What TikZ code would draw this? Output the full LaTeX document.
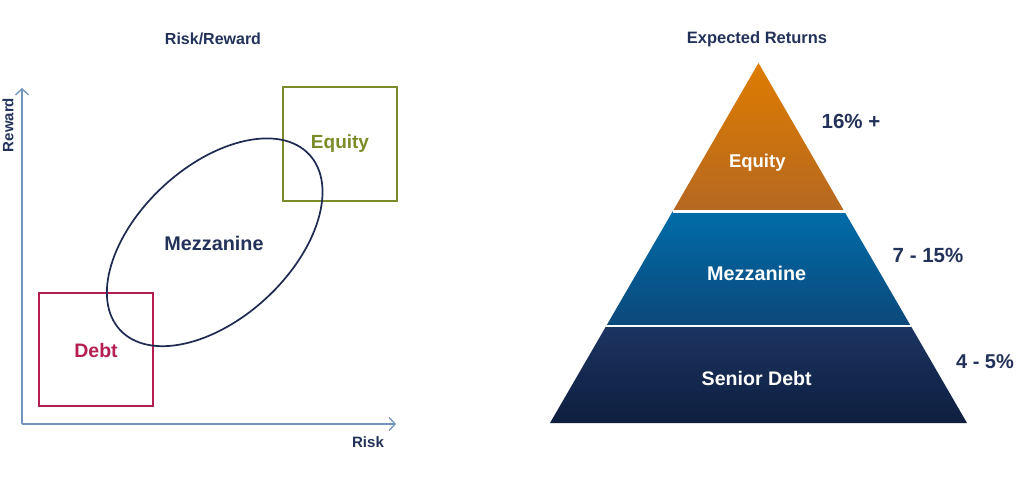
\documentclass[tikz,border=0pt]{standalone}
\usepackage{fontspec}
\setmainfont{Liberation Sans}
\usetikzlibrary{arrows.meta}
\definecolor{navy}{RGB}{35,50,90}
\definecolor{axiscol}{RGB}{115,148,188}
\definecolor{debtcol}{RGB}{180,30,80}
\definecolor{eqcol}{RGB}{122,140,40}
\definecolor{ellcol}{RGB}{30,42,80}
\definecolor{eqtop}{RGB}{222,124,0}
\definecolor{eqbot}{RGB}{182,104,34}
\definecolor{mztop}{RGB}{0,108,168}
\definecolor{mzbot}{RGB}{12,72,122}
\definecolor{sdtop}{RGB}{28,52,98}
\definecolor{sdbot}{RGB}{14,30,62}
\tikzset{
  lbl/.style={font=\bfseries\fontsize{#1}{#1}\selectfont, text=navy, inner sep=0pt},
  wlbl/.style={font=\bfseries\fontsize{#1}{#1}\selectfont, text=white, inner sep=0pt},
  axisline/.style={draw=axiscol, line width=1.3pt, -{Straight Barb[length=6pt,width=13pt]}},
  boxline/.style={line width=1.8pt}
}
\begin{document}
\begin{tikzpicture}[x=1pt,y=1pt]
\useasboundingbox[fill=white] (0,0) rectangle (1024,493);
% ---- left panel ----
\node[lbl=16] (t1) at (213,454) {Risk/Reward};
\coordinate (o) at (22,69);
\coordinate (ytop) at (22,405);
\coordinate (xend) at (396,69);
\draw[axisline] (o) -- (ytop);
\draw[axisline] (o) -- (xend);
\node[lbl=15, rotate=90] (rew) at (8,368) {Reward};
\node[lbl=15] (risk) at (368,51) {Risk};
\node[draw=debtcol, boxline, minimum width=114pt, minimum height=113pt, inner sep=0pt] (debtbox) at (96,143.5) {};
\node[lbl=19.5, text=debtcol] (debt) at (96,142) {Debt};
\node[draw=eqcol, boxline, minimum width=114pt, minimum height=114pt, inner sep=0pt] (eqbox) at (340,349) {};
\node[lbl=19, text=eqcol] (eq) at (340,349) {Equity};
\draw[ellcol, line width=1.7pt] (214.7,250.7) ellipse [x radius=129, y radius=76, rotate=42.8];
\node[lbl=19.8] (mz) at (214,250) {Mezzanine};
% ---- right panel ----
\node[lbl=16.5] (t2) at (757,454) {Expected Returns};
\coordinate (apex) at (758.5,430);
\coordinate (bl) at (550,70);
\coordinate (br) at (967,70);
\coordinate (e1l) at (672.5,281.3);
\coordinate (e1r) at (844.5,281.3);
\coordinate (m1l) at (606.2,167);
\coordinate (m1r) at (910.8,167);
\shade[top color=eqtop, bottom color=eqbot] (apex) -- (e1r) -- (e1l) -- cycle;
\shade[top color=mztop, bottom color=mzbot] (e1l) -- (e1r) -- (m1r) -- (m1l) -- cycle;
\shade[top color=sdtop, bottom color=sdbot] (m1l) -- (m1r) -- (br) -- (bl) -- cycle;
\draw[white, line width=2.6pt] (e1l) -- (e1r);
\draw[white, line width=2.6pt] (m1l) -- (m1r);
\node[wlbl=18.5] (weq) at (757.3,330) {Equity};
\node[wlbl=19.8] (wmz) at (756.7,220) {Mezzanine};
\node[wlbl=19.6] (wsd) at (756.7,115) {Senior Debt};
\node[lbl=20.5] (r1) at (851,371.3) {16\% +};
\node[lbl=20.5] (r2) at (928,238) {7 - 15\%};
\node[lbl=20] (r3) at (985,131.3) {4 - 5\%};
\end{tikzpicture}
\end{document}
